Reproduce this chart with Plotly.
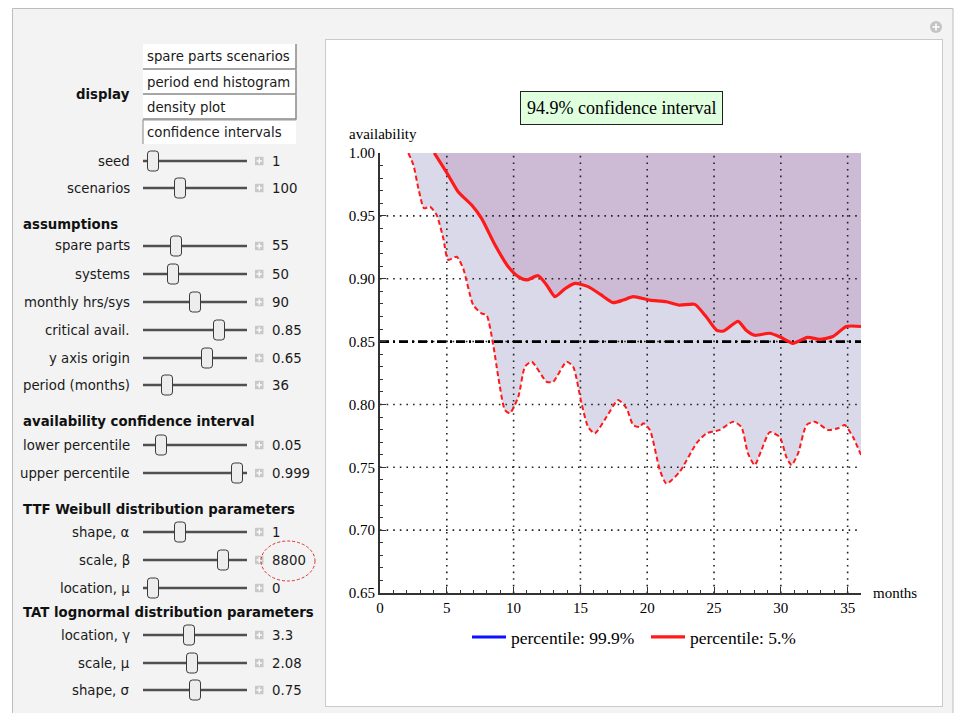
import plotly.graph_objects as go

# ---------------------------------------------------------------- data
# month at which the solid percentile curve leaves the 1.00 ceiling, and its values
months_upper = [4.06, 5.1, 5.86, 6.86, 7.6, 8.6, 9.6, 10.35, 10.97, 11.84, 12.47, 13.1,
                13.84, 14.58, 15.58, 16.5, 17.45, 18.2, 18.95, 20.2, 21.44, 22.4, 23.56,
                24.4, 25.18, 25.7, 26.8, 27.4, 28.05, 29.17, 30.0, 30.9, 32.0, 32.9,
                33.9, 34.9, 36.0]
avail_upper = [1.0, 0.9825, 0.969, 0.9586, 0.948, 0.927, 0.9095, 0.9016, 0.899, 0.9024,
               0.895, 0.8857, 0.892, 0.8963, 0.8937, 0.8875, 0.881, 0.883, 0.8857, 0.883,
               0.8817, 0.879, 0.8796, 0.8699, 0.8592, 0.8584, 0.866, 0.859, 0.855,
               0.8566, 0.8534, 0.8486, 0.8534, 0.8518, 0.854, 0.862, 0.862]

# lower (dashed) percentile curve
months_lower = [2.12, 2.5, 2.87, 3.3, 3.74, 4.24, 4.74, 5.1, 5.74, 6.23, 6.98, 7.6, 7.98,
                8.48, 8.85, 9.35, 9.72, 10.35, 10.85, 11.35, 12.47, 12.96, 13.96, 14.46,
                15.08, 15.58, 16.08, 16.95, 17.82, 18.45, 18.95, 19.45, 19.7, 20.2,
                20.94, 21.44, 22.44, 23.68, 24.43, 25.43, 26.43, 27.05, 27.54, 28.05,
                28.55, 29.17, 29.92, 30.42, 30.8, 31.29, 31.92, 32.54, 33.53, 34.28,
                34.78, 35.4, 36.0]
avail_lower = [1.0, 0.9905, 0.972, 0.956, 0.9573, 0.9507, 0.932, 0.915, 0.9175, 0.908,
               0.879, 0.8725, 0.871, 0.847, 0.822, 0.7955, 0.793, 0.806, 0.83, 0.834,
               0.818, 0.818, 0.834, 0.83, 0.8009, 0.782, 0.777, 0.79, 0.8035, 0.797,
               0.7836, 0.782, 0.785, 0.7797, 0.748, 0.737, 0.7466, 0.769, 0.777, 0.7797,
               0.7863, 0.782, 0.761, 0.7518, 0.7637, 0.778, 0.774, 0.758, 0.7518, 0.761,
               0.7836, 0.7863, 0.7797, 0.781, 0.7836, 0.774, 0.7598]

critical_avail = 0.85
y_origin = 0.65
y_top = 1.0
period = 36

x_ticks = [0, 5, 10, 15, 20, 25, 30, 35]
y_ticks = [0.65, 0.70, 0.75, 0.80, 0.85, 0.90, 0.95, 1.00]

legend_names = ["percentile: 99.9%", "percentile: 5.%"]
title_text = "94.9% confidence interval"

# control panel entries
display_buttons = ["spare parts scenarios", "period end histogram", "density plot",
                   "confidence intervals"]
section_titles = ["assumptions", "availability confidence interval",
                  "TTF Weibull distribution parameters",
                  "TAT lognormal distribution parameters"]
slider_labels = ["seed", "scenarios", "spare parts", "systems", "monthly hrs/sys",
                 "critical avail.", "y axis origin", "period (months)",
                 "lower percentile", "upper percentile", "shape, α", "scale, β",
                 "location, μ", "location, γ", "scale, μ", "shape, σ"]
slider_values = ["1", "100", "55", "50", "90", "0.85", "0.65", "36", "0.05", "0.999",
                 "1", "8800", "0", "3.3", "2.08", "0.75"]

# ---------------------------------------------------------------- layout geometry (pixels)
W, H = 958, 713
PL, PR, PT, PB = 380, 861, 153, 593


def X(px):
    return (px - PL) / (PR - PL)


def Y(py):
    return (PB - py) / (PB - PT)


slider_rows = [161, 188, 246, 274, 302, 330, 358, 385, 445, 473, 532, 560, 588, 635, 663, 690]
slider_thumbs = [153, 180, 176, 173, 195, 219, 207, 167, 161, 237, 180, 223, 153, 189, 192, 195]
section_rows = [224, 421, 509, 612]
button_rows = [(44, 69), (70, 94), (95, 119), (120, 144)]

LAVENDER = "#D9D9EA"
MAUVE = "#CDBAD5"
SERIF = "Liberation Serif"
SANS = "DejaVu Sans"
CTRL_SIZE = 13.3

fig = go.Figure()

# shaded band between the lower percentile and the ceiling
fig.add_trace(go.Scatter(x=[months_lower[0], period], y=[y_top, y_top], mode="lines",
                         line=dict(width=0), hoverinfo="skip", showlegend=False))
fig.add_trace(go.Scatter(x=months_lower, y=avail_lower, mode="lines",
                         line=dict(width=0, shape="spline", smoothing=0.6),
                         fill="tonexty", fillcolor=LAVENDER, hoverinfo="skip",
                         showlegend=False))
# darker band above the solid percentile curve
fig.add_trace(go.Scatter(x=[months_upper[0], period], y=[y_top, y_top], mode="lines",
                         line=dict(width=0), hoverinfo="skip", showlegend=False))
fig.add_trace(go.Scatter(x=months_upper, y=avail_upper, mode="lines",
                         line=dict(width=0, shape="spline", smoothing=0.6),
                         fill="tonexty", fillcolor=MAUVE, hoverinfo="skip",
                         showlegend=False))

# dotted grid drawn over the shading
gx, gy = [], []
for v in x_ticks[1:]:
    gx += [v, v, None]
    gy += [y_origin, y_top, None]
fig.add_trace(go.Scatter(x=gx, y=gy, mode="lines", hoverinfo="skip", showlegend=False,
                         line=dict(color="#222", width=1.6, dash="1.6px,5px")))
hx, hy = [], []
for v in y_ticks[1:-1]:
    hx += [0, period + 0.3, None]
    hy += [v, v, None]
fig.add_trace(go.Scatter(x=hx, y=hy, mode="lines", hoverinfo="skip", showlegend=False,
                         line=dict(color="#222", width=1.6, dash="1.6px,5px")))

# critical availability threshold
fig.add_trace(go.Scatter(x=[0, period], y=[critical_avail, critical_avail], mode="lines",
                         hoverinfo="skip", showlegend=False,
                         line=dict(color="black", width=2.8, dash="9px,4px,2px,4px")))

# percentile curves
fig.add_trace(go.Scatter(x=months_lower, y=avail_lower, mode="lines", showlegend=False,
                         line=dict(color="#FF1A1A", width=2, dash="5px,3px",
                                   shape="spline", smoothing=0.6)))
fig.add_trace(go.Scatter(x=[None], y=[None], mode="lines", name=legend_names[0],
                         line=dict(color="#1010FF", width=3)))
fig.add_trace(go.Scatter(x=months_upper, y=avail_upper, mode="lines", name=legend_names[1],
                         line=dict(color="#FF1A1A", width=3.2, shape="spline",
                                   smoothing=0.6)))

shapes = []
annotations = []

# manipulate panel background and the white graphics pane
shapes.append(dict(type="rect", xref="paper", yref="paper", layer="below",
                   x0=X(12.5), x1=X(953), y0=Y(8.5), y1=Y(720),
                   fillcolor="#F3F3F3", line=dict(color="#BDBDBD", width=1)))
shapes.append(dict(type="rect", xref="paper", yref="paper", layer="below",
                   x0=X(325.5), x1=X(942.5), y0=Y(39.5), y1=Y(706.5),
                   fillcolor="white", line=dict(color="#9A9A9A", width=1, dash="1px,1px")))

# options icon in the corner
shapes.append(dict(type="circle", xref="paper", yref="paper", x0=X(930), x1=X(942),
                   y0=Y(33), y1=Y(21), fillcolor="#C4C4C4", line=dict(width=0)))
shapes.append(dict(type="line", xref="paper", yref="paper", x0=X(932.5), x1=X(939.5),
                   y0=Y(27), y1=Y(27), line=dict(color="white", width=1.6)))
shapes.append(dict(type="line", xref="paper", yref="paper", x0=X(936), x1=X(936),
                   y0=Y(23.5), y1=Y(30.5), line=dict(color="white", width=1.6)))

# display setter bar
for i, (name, (top, bot)) in enumerate(zip(display_buttons, button_rows)):
    shapes.append(dict(type="rect", xref="paper", yref="paper", x0=X(143), x1=X(296),
                       y0=Y(bot), y1=Y(top), fillcolor="white", line=dict(width=0)))
    if i < 3:
        shapes.append(dict(type="path", xref="paper", yref="paper",
                           path=f"M {X(143)} {Y(bot)} L {X(296)} {Y(bot)} L {X(296)} {Y(top)}",
                           line=dict(color="#8A8A8A", width=1.5)))
    else:
        shapes.append(dict(type="path", xref="paper", yref="paper",
                           path=f"M {X(143)} {Y(bot)} L {X(143)} {Y(top)} L {X(296)} {Y(top)}",
                           line=dict(color="#9A9A9A", width=1.2)))
    annotations.append(dict(xref="paper", yref="paper", x=X(145), y=Y((top + bot) / 2),
                            xanchor="left", yanchor="middle", showarrow=False, text=name,
                            font=dict(family=SANS, size=CTRL_SIZE, color="#1A1A1A")))
annotations.append(dict(xref="paper", yref="paper", x=X(132), y=Y(94), xanchor="right",
                        yanchor="middle", showarrow=False, text="<b>display</b>",
                        font=dict(family=SANS, size=CTRL_SIZE, color="#111")))

for name, row in zip(section_titles, section_rows):
    annotations.append(dict(xref="paper", yref="paper", x=X(21), y=Y(row), xanchor="left",
                            yanchor="middle", showarrow=False, text=f"<b>{name}</b>",
                            font=dict(family=SANS, size=CTRL_SIZE, color="#111")))

# sliders
for name, val, row, thumb in zip(slider_labels, slider_values, slider_rows, slider_thumbs):
    annotations.append(dict(xref="paper", yref="paper", x=X(132), y=Y(row), xanchor="right",
                            yanchor="middle", showarrow=False, text=name,
                            font=dict(family=SANS, size=CTRL_SIZE, color="#1A1A1A")))
    shapes.append(dict(type="line", xref="paper", yref="paper", x0=X(143), x1=X(247),
                       y0=Y(row), y1=Y(row), line=dict(color="#505050", width=2.6)))
    l, r, t, b = thumb - 5.5, thumb + 5.5, row - 10, row + 10
    rr = 3
    path = (f"M {X(l + rr)} {Y(t)} L {X(r - rr)} {Y(t)} Q {X(r)} {Y(t)} {X(r)} {Y(t + rr)} "
            f"L {X(r)} {Y(b - rr)} Q {X(r)} {Y(b)} {X(r - rr)} {Y(b)} "
            f"L {X(l + rr)} {Y(b)} Q {X(l)} {Y(b)} {X(l)} {Y(b - rr)} "
            f"L {X(l)} {Y(t + rr)} Q {X(l)} {Y(t)} {X(l + rr)} {Y(t)} Z")
    shapes.append(dict(type="path", xref="paper", yref="paper", path=path,
                       fillcolor="#EDEDED", line=dict(color="#3A3A3A", width=1)))
    shapes.append(dict(type="rect", xref="paper", yref="paper", x0=X(255), x1=X(263.5),
                       y0=Y(row + 4.25), y1=Y(row - 4.25), fillcolor="#C8C8C8",
                       line=dict(width=0)))
    shapes.append(dict(type="line", xref="paper", yref="paper", x0=X(256.5), x1=X(262),
                       y0=Y(row), y1=Y(row), line=dict(color="white", width=1.3)))
    shapes.append(dict(type="line", xref="paper", yref="paper", x0=X(259.25), x1=X(259.25),
                       y0=Y(row - 2.75), y1=Y(row + 2.75), line=dict(color="white", width=1.3)))
    annotations.append(dict(xref="paper", yref="paper", x=X(270), y=Y(row), xanchor="left",
                            yanchor="middle", showarrow=False, text=val,
                            font=dict(family=SANS, size=CTRL_SIZE, color="#1A1A1A")))

# red dashed ring around the Weibull scale value
shapes.append(dict(type="circle", xref="paper", yref="paper", x0=X(261), x1=X(315),
                   y0=Y(581), y1=Y(541), line=dict(color="#E03030", width=1, dash="3px,2px")))

# chart title box and axis captions
annotations.append(dict(xref="paper", yref="paper", x=X(621), y=Y(108), xanchor="center",
                        yanchor="middle", showarrow=False, text=title_text,
                        bgcolor="#DFFFDF", bordercolor="#222", borderwidth=1, borderpad=6,
                        font=dict(family=SERIF, size=18, color="black")))
annotations.append(dict(xref="paper", yref="paper", x=X(347), y=Y(134), xanchor="left",
                        yanchor="middle", showarrow=False, text="availability",
                        font=dict(family=SERIF, size=15, color="black")))
annotations.append(dict(xref="paper", yref="paper", x=X(871), y=Y(593), xanchor="left",
                        yanchor="middle", showarrow=False, text="months",
                        font=dict(family=SERIF, size=15, color="black")))

fig.update_layout(
    width=W, height=H,
    margin=dict(l=PL, r=W - PR, t=PT, b=H - PB, pad=0),
    paper_bgcolor="white", plot_bgcolor="white",
    shapes=shapes, annotations=annotations,
    showlegend=True,
    legend=dict(orientation="h", x=X(467), y=Y(619), xanchor="left", yanchor="top",
                font=dict(family=SERIF, size=17.5, color="black"),
                itemwidth=34, entrywidth=130, entrywidthmode="pixels",
                bgcolor="rgba(0,0,0,0)", traceorder="normal"),
    xaxis=dict(range=[0, period], tickvals=x_ticks, ticktext=[str(v) for v in x_ticks],
               showgrid=False, zeroline=False, showline=True, linecolor="#333",
               linewidth=2, ticks="inside", ticklen=6, tickwidth=1.3, tickcolor="#333",
               minor=dict(dtick=1, tick0=0, ticks="inside", ticklen=3, tickcolor="#333",
                          tickwidth=1.2, showgrid=False),
               tickfont=dict(family=SERIF, size=15, color="black"),
               layer="above traces", fixedrange=True),
    yaxis=dict(range=[y_origin, y_top], tickvals=y_ticks,
               ticktext=[f"{v:.2f}" for v in y_ticks],
               showgrid=False, zeroline=False, showline=True, linecolor="#333",
               linewidth=2, ticks="inside", ticklen=6, tickwidth=1.3, tickcolor="#333",
               minor=dict(dtick=0.01, tick0=0.65, ticks="inside", ticklen=3,
                          tickcolor="#333", tickwidth=1.2, showgrid=False),
               tickfont=dict(family=SERIF, size=15, color="black"),
               layer="above traces", fixedrange=True),
)

fig.write_html("out.html", config={"displayModeBar": False})
